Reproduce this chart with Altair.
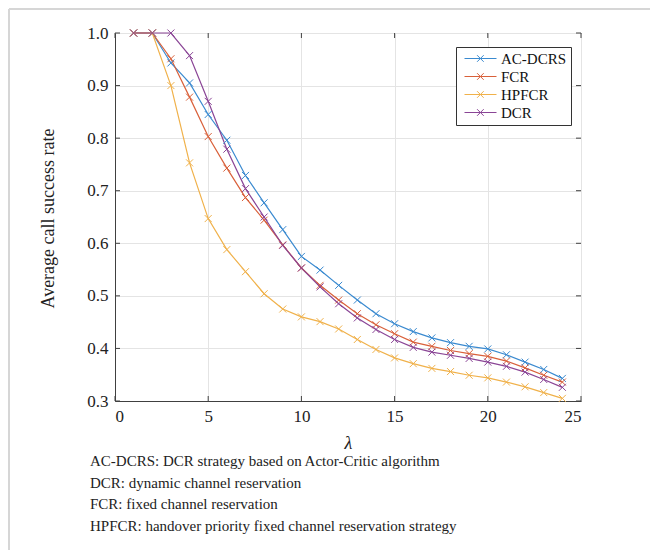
import altair as alt
import pandas as pd

lam = [1, 2, 3, 4, 5, 6, 7, 8, 9, 10, 11, 12, 13, 14, 15, 16, 17, 18, 19, 20, 21, 22, 23, 24]
ac_dcrs = [1.0, 1.0, 0.943, 0.905, 0.845, 0.796, 0.729, 0.677, 0.626, 0.575, 0.549, 0.520,
           0.492, 0.466, 0.447, 0.432, 0.420, 0.411, 0.404, 0.399, 0.388, 0.374, 0.360, 0.343]
fcr = [1.0, 1.0, 0.951, 0.878, 0.803, 0.743, 0.687, 0.644, 0.597, 0.553, 0.520, 0.492,
       0.466, 0.445, 0.428, 0.412, 0.404, 0.396, 0.390, 0.385, 0.376, 0.363, 0.349, 0.336]
hpfcr = [1.0, 1.0, 0.900, 0.753, 0.647, 0.588, 0.546, 0.504, 0.475, 0.460, 0.451, 0.437,
         0.417, 0.398, 0.382, 0.371, 0.362, 0.356, 0.349, 0.344, 0.336, 0.327, 0.316, 0.305]
dcr = [1.0, 1.0, 1.0, 0.957, 0.870, 0.779, 0.704, 0.650, 0.596, 0.553, 0.517, 0.485,
       0.458, 0.436, 0.417, 0.402, 0.393, 0.387, 0.381, 0.374, 0.366, 0.355, 0.341, 0.326]

series_names = ["AC-DCRS", "FCR", "HPFCR", "DCR"]
series_colors = ["#3a8ad0", "#d9603a", "#f0b14a", "#8a4596"]
x_ticks = [0, 5, 10, 15, 20, 25]
y_ticks = [0.3, 0.4, 0.5, 0.6, 0.7, 0.8, 0.9, 1.0]
caption_lines = [
    "AC-DCRS: DCR strategy based on Actor-Critic algorithm",
    "DCR: dynamic channel reservation",
    "FCR: fixed channel reservation",
    "HPFCR: handover priority fixed channel reservation strategy",
]

rows = []
for name, vals in zip(series_names, [ac_dcrs, fcr, hpfcr, dcr]):
    for xv, yv in zip(lam, vals):
        rows.append({"lam": xv, "rate": yv, "series": name})
df = pd.DataFrame(rows)

W, H = 466, 368
FONT = "Liberation Serif"

xscale = alt.Scale(domain=[0, 25], nice=False, zero=False)
yscale = alt.Scale(domain=[0.3, 1.0], nice=False, zero=False)
color = alt.Color(
    "series:N",
    scale=alt.Scale(domain=series_names, range=series_colors),
    legend=alt.Legend(
        title=None, orient="none", legendX=341, legendY=14,
        strokeColor="#333333", fillColor="white", padding=4,
        symbolType="M-1,0L9.67,0M3.2,-1.1L5.4,1.1M3.2,1.1L5.4,-1.1",
        symbolSize=36, symbolStrokeWidth=1, symbolOpacity=0.85, labelOffset=26, rowPadding=2,
        labelFont=FONT, labelFontSize=15, labelColor="#111111",
    ),
)

xaxis = alt.Axis(values=x_ticks, format="d", grid=True, ticks=False, tickSize=0,
                 labelPadding=7, title="λ", titleFontStyle="italic", titleFontWeight="normal",
                 titleFontSize=18, titleY=47, titleBaseline="alphabetic")
yaxis = alt.Axis(values=y_ticks, format=".1f", grid=True, ticks=False, tickSize=0,
                 labelPadding=7, title="Average call success rate", titleFontWeight="normal",
                 titleFontSize=18, titleX=-67, titleY=185, titleBaseline="middle",
                 titleAlign="center", titleAngle=-90)

base = alt.Chart(df)
lines = base.mark_line(strokeWidth=1.2).encode(
    x=alt.X("lam:Q", scale=xscale, axis=xaxis),
    y=alt.Y("rate:Q", scale=yscale, axis=yaxis),
    color=color,
)
points = base.mark_point(shape="M-1,-1L1,1M-1,1L1,-1", filled=False, size=49,
                         strokeWidth=1, opacity=1).encode(
    x=alt.X("lam:Q", scale=xscale),
    y=alt.Y("rate:Q", scale=yscale),
    color=alt.Color("series:N", scale=alt.Scale(domain=series_names, range=series_colors)),
)

xt = pd.DataFrame({"t": x_ticks})
yt = pd.DataFrame({"t": y_ticks})
tick_col = "#404040"
xt_bottom = alt.Chart(xt).mark_rule(color=tick_col, strokeWidth=1).encode(
    x=alt.X("t:Q", scale=xscale), y=alt.value(H), y2=alt.value(H - 5))
xt_top = alt.Chart(xt).mark_rule(color=tick_col, strokeWidth=1).encode(
    x=alt.X("t:Q", scale=xscale), y=alt.value(0), y2=alt.value(5))
yt_left = alt.Chart(yt).mark_rule(color=tick_col, strokeWidth=1).encode(
    y=alt.Y("t:Q", scale=yscale), x=alt.value(0), x2=alt.value(5))
yt_right = alt.Chart(yt).mark_rule(color=tick_col, strokeWidth=1).encode(
    y=alt.Y("t:Q", scale=yscale), x=alt.value(W), x2=alt.value(W - 5))

one = alt.Data(values=[{"a": 1}])
frame_top = alt.Chart(one).mark_rule(color="#d6d6d6", strokeWidth=2).encode(
    x=alt.value(-106), x2=alt.value(W + 80), y=alt.value(-24))
frame_left = alt.Chart(one).mark_rule(color="#d6d6d6", strokeWidth=2).encode(
    x=alt.value(-106), y=alt.value(-24), y2=alt.value(H + 160))

caption = alt.Chart(one).mark_text(
    align="left", baseline="alphabetic", font=FONT, fontSize=15, lineHeight=21.5, color="#222222"
).encode(x=alt.value(-25), y=alt.value(433), text=alt.value(caption_lines))

chart = alt.layer(
    frame_top, frame_left, lines, points, xt_bottom, xt_top, yt_left, yt_right, caption
).properties(
    width=W, height=H,
    autosize=alt.AutoSizeParams(type="none"),
    padding={"left": 107, "top": 25, "right": 69, "bottom": 149},
).configure_view(
    stroke="#404040", strokeWidth=1
).configure_axis(
    domainColor="#404040", domainWidth=1, gridColor="#e4e4e4", gridWidth=1,
    labelFont=FONT, labelFontSize=17, labelColor="#222222",
    titleFont=FONT, titleColor="#222222",
)

chart.save("out.html", embed_options={"renderer": "svg", "actions": False})
